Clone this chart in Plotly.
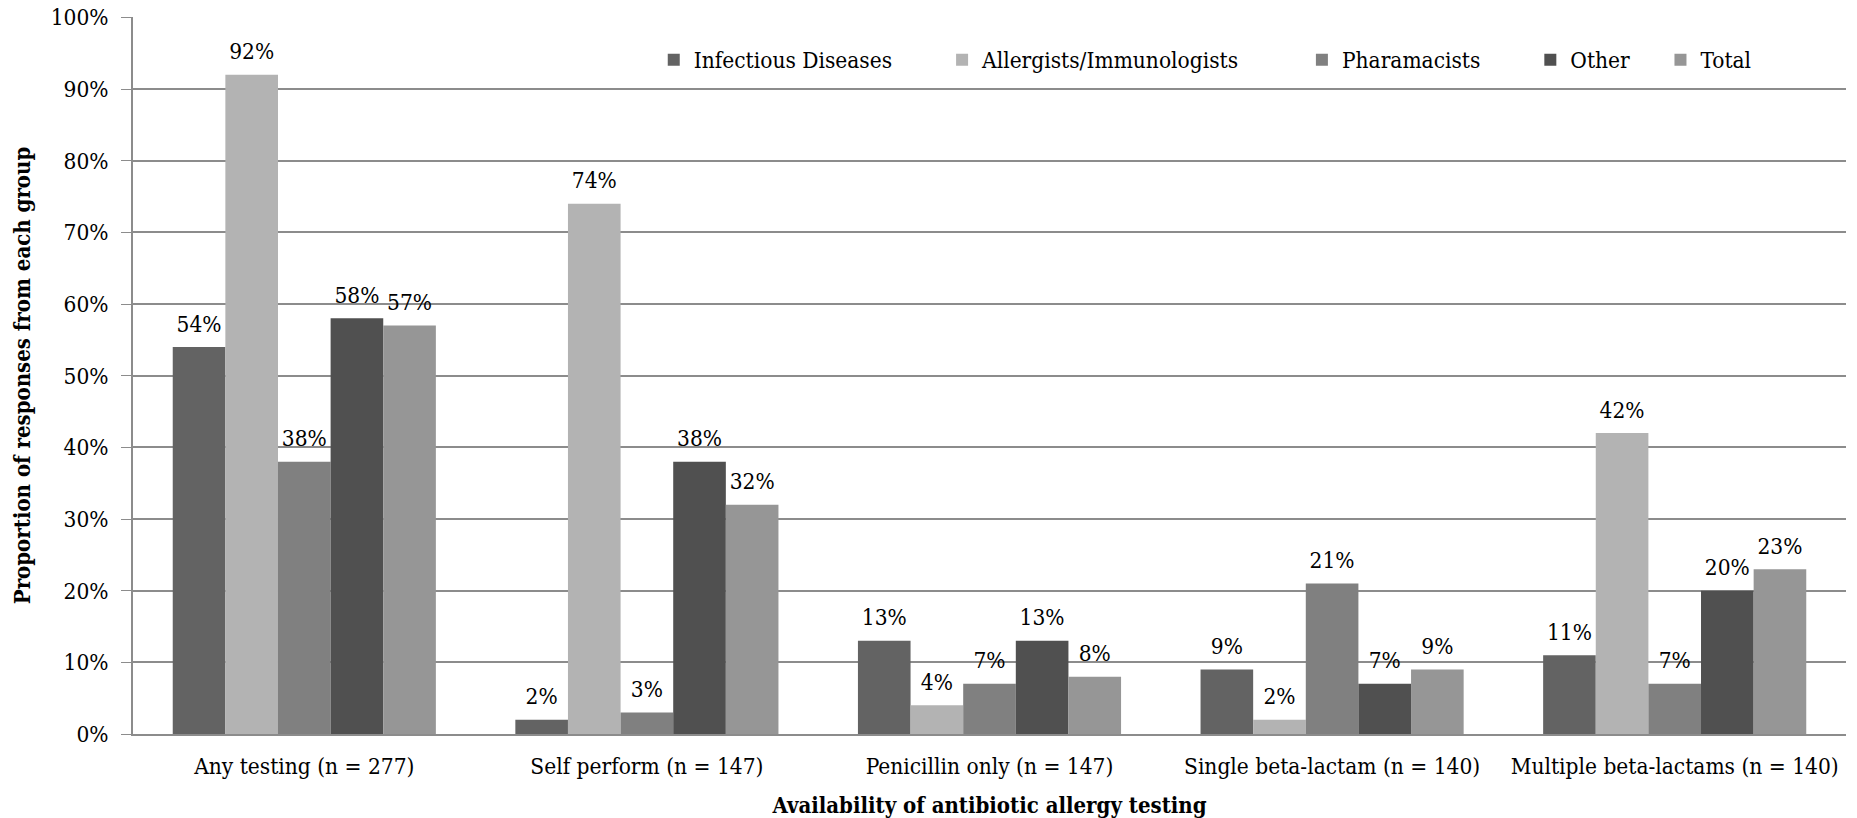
import plotly.graph_objects as go

categories = ["Any testing (n = 277)", "Self perform (n = 147)", "Penicillin only (n = 147)",
              "Single beta-lactam (n = 140)", "Multiple beta-lactams (n = 140)"]
series_names = ["Infectious Diseases", "Allergists/Immunologists", "Pharamacists", "Other", "Total"]
infectious = [54, 2, 13, 9, 11]
allergists = [92, 74, 4, 2, 42]
pharmacists = [38, 3, 7, 21, 7]
other = [58, 38, 13, 7, 20]
total = [57, 32, 8, 9, 23]
values = [infectious, allergists, pharmacists, other, total]
colors = ["#636363", "#b3b3b3", "#808080", "#505050", "#969696"]
pads = [7, 9, 7, 4, 0]

FONT = "DejaVu Serif Condensed, DejaVu Serif, serif"
FS = 22.5
fig = go.Figure()
for name, vals, col, p in zip(series_names, values, colors, pads):
    fig.add_trace(go.Bar(
        x=categories, y=vals, name=name + "\u00a0" * p,
        marker=dict(color=col, line=dict(width=0)),
    ))
for name, vals in zip(series_names, values):
    fig.add_trace(go.Scatter(
        x=categories, y=vals, mode="markers+text", showlegend=False, hoverinfo="skip",
        marker=dict(size=14, opacity=0, color="white"),
        text=[f"{v}%" for v in vals], textposition="top center",
        textfont=dict(family=FONT, size=FS, color="#000"),
        cliponaxis=False,
    ))

fig.update_layout(
    width=1857, height=818,
    margin=dict(l=133, r=11, t=17, b=84, autoexpand=False),
    paper_bgcolor="white", plot_bgcolor="white",
    barmode="group", bargap=0.232, bargroupgap=0,
    scattermode="group", scattergap=0.232,
    font=dict(family=FONT, size=FS, color="#000"),
    showlegend=True,
    legend=dict(orientation="h", x=0.304, y=0.94, xanchor="left", yanchor="middle",
                bgcolor="rgba(0,0,0,0)", font=dict(family=FONT, size=FS),
                itemwidth=30, traceorder="normal"),
    xaxis=dict(showline=True, linecolor="#8c8c8c", linewidth=2, ticks="",
               tickfont=dict(family=FONT, size=FS), ticklabelstandoff=11, automargin=False,
               title=dict(text="<b>Availability of antibiotic allergy testing</b>",
                          font=dict(family=FONT, size=22), standoff=22)),
    yaxis=dict(range=[0, 100.05], dtick=10, ticksuffix="%", showgrid=True,
               gridcolor="#8c8c8c", gridwidth=1.5, showline=True, linecolor="#8c8c8c",
               linewidth=2, ticks="outside", ticklen=10, tickcolor="#8c8c8c",
               tickfont=dict(family=FONT, size=FS), zeroline=False, ticklabelstandoff=8,
               automargin=False,
               title=dict(text="<b>Proportion of responses from each group</b>",
                          font=dict(family=FONT, size=22), standoff=14)),
)

fig.write_html("out.html", config={"displayModeBar": False},
               post_script="document.body.style.margin='0';")
